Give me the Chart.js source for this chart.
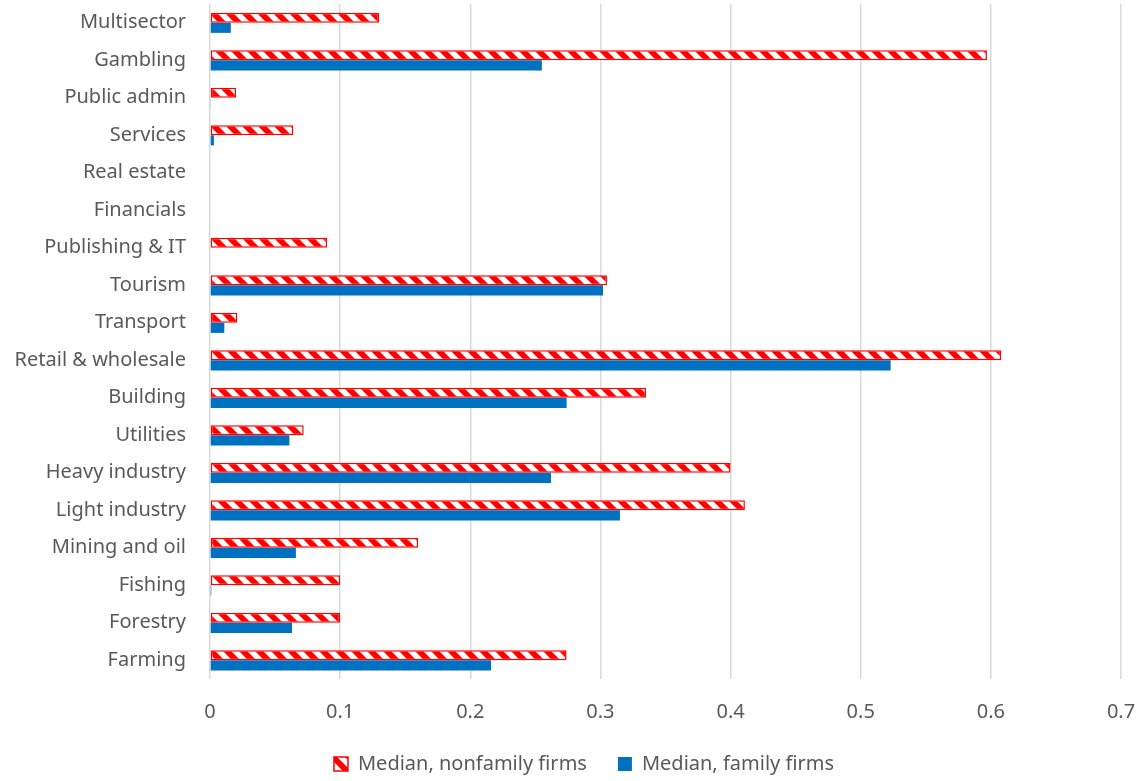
<!DOCTYPE html>
<html lang="en">
<head>
    <meta charset="UTF-8">
    <title>Median by sector</title>
    <script src="https://cdn.jsdelivr.net/npm/chart.js"></script>
    <style>
        html, body {
            margin: 0;
            padding: 0;
            background: #ffffff;
        }
        #wrap {
            width: 1144px;
            height: 781px;
        }
    </style>
</head>
<body>
    <div id="wrap">
        <canvas id="sectorChart"></canvas>
    </div>

    <script>
        // sectors, top to bottom as in the picture
        const sectors = ['Multisector', 'Gambling', 'Public admin', 'Services', 'Real estate', 'Financials',
            'Publishing & IT', 'Tourism', 'Transport', 'Retail & wholesale', 'Building', 'Utilities',
            'Heavy industry', 'Light industry', 'Mining and oil', 'Fishing', 'Forestry', 'Farming'];
        const nonfamily = [0.130, 0.597, 0.020, 0.064, 0, 0, 0.090, 0.305, 0.021, 0.608, 0.335, 0.072,
            0.400, 0.411, 0.160, 0.100, 0.100, 0.274];
        const family = [0.016, 0.255, 0.0005, 0.003, 0, 0, 0, 0.302, 0.011, 0.523, 0.274, 0.061,
            0.262, 0.315, 0.066, 0.001, 0.063, 0.216];
        const xTicks = [0, 0.1, 0.2, 0.3, 0.4, 0.5, 0.6, 0.7];

        // red / white diagonal hatch for the nonfamily bars
        function makeHatch() {
            const size = 16;
            const c = document.createElement('canvas');
            c.width = size;
            c.height = size;
            const g = c.getContext('2d');
            g.fillStyle = '#ff0000';
            g.fillRect(0, 0, size, size);
            g.strokeStyle = '#ffffff';
            g.lineWidth = 5.5;
            g.beginPath();
            g.moveTo(-size / 2, -size / 2);
            g.lineTo(size * 1.5, size * 1.5);
            g.moveTo(-size * 1.5, -size / 2);
            g.lineTo(size / 2, size * 1.5);
            g.moveTo(size / 2, -size / 2);
            g.lineTo(size * 2.5, size * 1.5);
            g.stroke();
            return g.createPattern(c, 'repeat');
        }

        // legend in the picture sits a bit right of the canvas centre
        const shiftLegend = {
            id: 'shiftLegend',
            afterLayout(chart) {
                chart.legend.left += 17;
                chart.legend.right += 17;
            }
        };

        const ctx = document.getElementById('sectorChart').getContext('2d');
        new Chart(ctx, {
            type: 'bar',
            data: {
                labels: sectors,
                datasets: [{
                    label: 'Median, nonfamily firms',
                    data: nonfamily,
                    backgroundColor: makeHatch(),
                    borderColor: '#ff0000',
                    borderWidth: 1.5,
                    borderSkipped: false
                }, {
                    label: 'Median, family firms',
                    data: family,
                    backgroundColor: '#0070c0',
                    borderWidth: 0
                }]
            },
            options: {
                indexAxis: 'y',
                responsive: true,
                maintainAspectRatio: false,
                animation: false,
                categoryPercentage: 0.54,
                barPercentage: 1,
                layout: {
                    padding: { top: 4, right: 23, bottom: -3, left: 13 }
                },
                scales: {
                    x: {
                        min: 0,
                        max: 0.7,
                        afterBuildTicks: axis => {
                            axis.ticks = xTicks.map(v => ({ value: v }));
                        },
                        afterFit: axis => {
                            axis.paddingLeft = 0;
                            axis.paddingRight = 0;
                            axis.height = 44;
                        },
                        ticks: {
                            color: '#595959',
                            font: { family: 'Noto Sans', size: 20 },
                            padding: 21
                        },
                        grid: {
                            color: '#d9d9d9',
                            lineWidth: 1.5,
                            drawTicks: false
                        },
                        border: { display: false }
                    },
                    y: {
                        afterFit: axis => {
                            // the labels sit inside the offset categories, no extra room needed
                            axis.paddingTop = 0;
                            axis.paddingBottom = 0;
                            axis.width = 197;
                        },
                        ticks: {
                            color: '#595959',
                            font: { family: 'Noto Sans', size: 20 },
                            padding: 24
                        },
                        grid: { display: false, drawTicks: false },
                        border: { display: false }
                    }
                },
                plugins: {
                    legend: {
                        position: 'bottom',
                        labels: {
                            color: '#595959',
                            font: { family: 'Noto Sans', size: 20 },
                            boxWidth: 14,
                            boxHeight: 14,
                            padding: 31
                        }
                    },
                    tooltip: { enabled: false }
                }
            },
            plugins: [shiftLegend]
        });
    </script>
</body>
</html>
